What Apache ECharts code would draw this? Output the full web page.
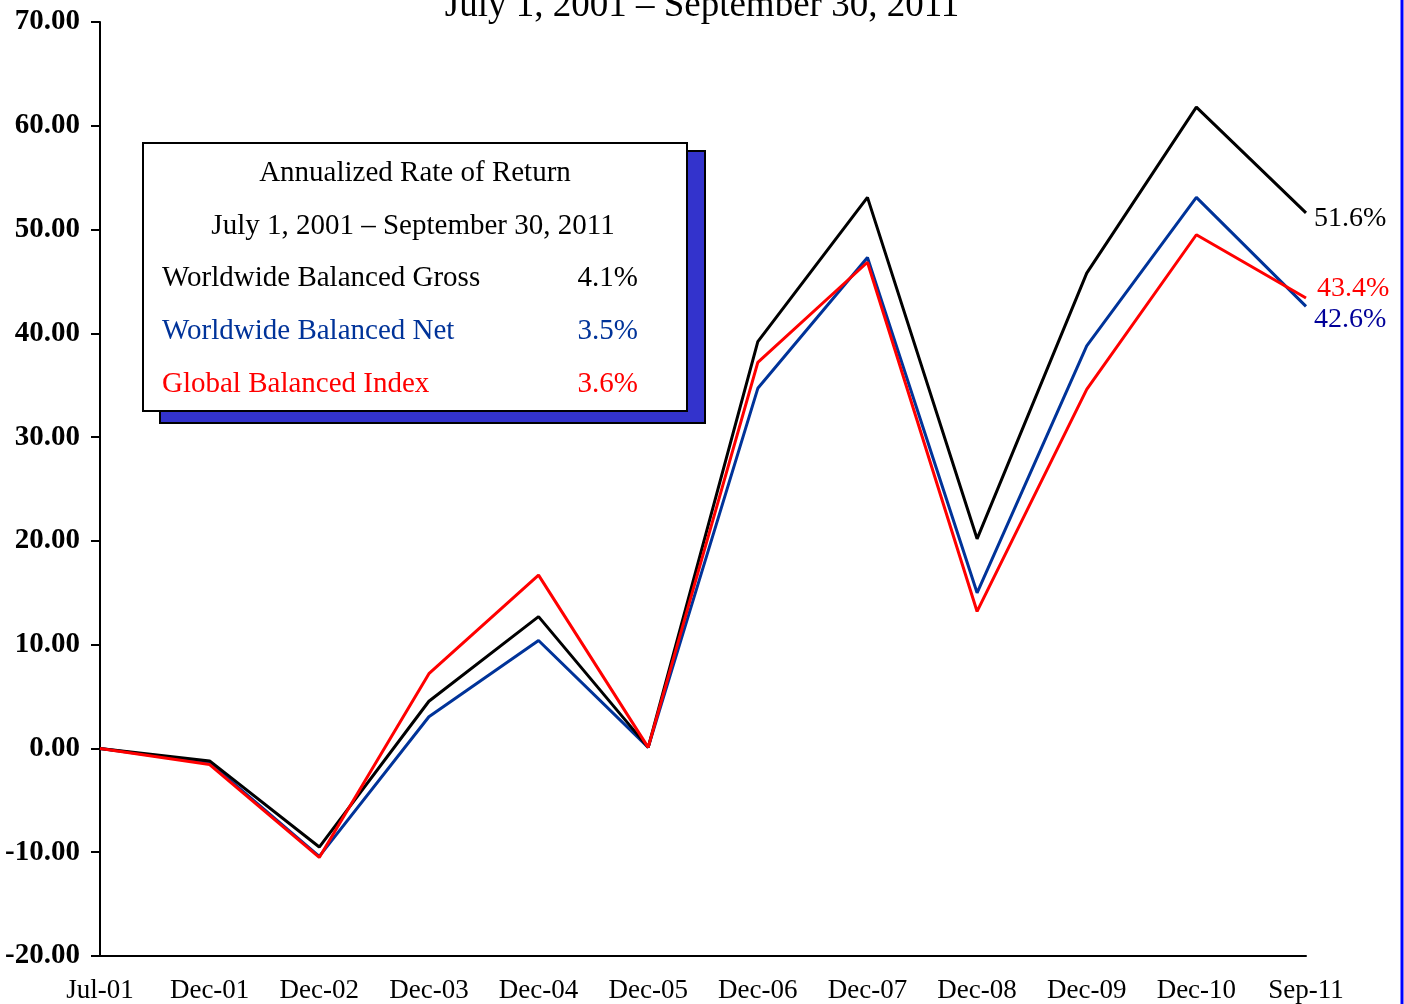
<!DOCTYPE html>
<html>
<head>
<meta charset="utf-8">
<script src="https://cdn.jsdelivr.net/npm/echarts@6/dist/echarts.min.js"></script>
<style>html,body{margin:0;padding:0;background:#fff}#c{width:1404px;height:1004px}</style>
</head>
<body>
<div id="c"></div>
<script>
const categories = ['Jul-01','Dec-01','Dec-02','Dec-03','Dec-04','Dec-05','Dec-06','Dec-07','Dec-08','Dec-09','Dec-10','Sep-11'];
const grossValues = [0, -1.2, -9.5, 4.55, 12.7, 0.1, 39.2, 53.1, 20.2, 45.8, 61.8, 51.6];
const netValues   = [0, -1.4, -10.4, 3.05, 10.4, 0.1, 34.7, 47.3, 15.0, 38.8, 53.1, 42.6];
const indexValues = [0, -1.55, -10.5, 7.2, 16.7, 0.1, 37.2, 46.85, 13.2, 34.6, 49.5, 43.4];
const seriesNames = ['Worldwide Balanced Gross', 'Worldwide Balanced Net', 'Global Balanced Index'];
const annualRates = ['4.1%', '3.5%', '3.6%'];
const endLabels = ['51.6%', '42.6%', '43.4%'];
const titleText = 'July 1, 2001 \u2013 September 30, 2011';
const boxTitle = 'Annualized Rate of Return';
const boxPeriod = 'July 1, 2001 \u2013 September 30, 2011';
const yTicks = { min: -20, max: 70, interval: 10 };

const lineColors = ['#000000', '#003399', '#FF0000'];
const labelColors = ['#000000', '#000099', '#FF0000'];
const labelOffsets = [[0, 6], [0, 13], [3, -9]];
const serif = '"Liberation Serif", "Times New Roman", serif';

const allValues = [grossValues, netValues, indexValues];
const chart = echarts.init(document.getElementById('c'), null, { renderer: 'canvas' });

const rowY = [278, 331, 384];
const graphics = [
  { type: 'text', x: 702, y: 6, style: { text: titleText, font: '37px ' + serif, fill: '#000', align: 'center', verticalAlign: 'middle' } },
  { type: 'rect', shape: { x: 160, y: 151, width: 545, height: 272 }, style: { fill: '#3333CC', stroke: '#000', lineWidth: 2 } },
  { type: 'rect', shape: { x: 143, y: 143, width: 544, height: 268 }, style: { fill: '#fff', stroke: '#000', lineWidth: 2 } },
  { type: 'text', x: 415, y: 173, style: { text: boxTitle, font: '29px ' + serif, fill: '#000', align: 'center', verticalAlign: 'middle' } },
  { type: 'text', x: 413, y: 226, style: { text: boxPeriod, font: '29px ' + serif, fill: '#000', align: 'center', verticalAlign: 'middle' } },
  { type: 'line', shape: { x1: 1402, y1: 0, x2: 1402, y2: 1004 }, style: { stroke: '#0000FF', lineWidth: 3 } }
];
seriesNames.forEach((n, i) => {
  const col = i === 1 ? '#003399' : lineColors[i];
  graphics.push({ type: 'text', x: 162, y: rowY[i], style: { text: n, font: '29px ' + serif, fill: col, align: 'left', verticalAlign: 'middle' } });
  graphics.push({ type: 'text', x: 638, y: rowY[i], style: { text: annualRates[i], font: '29px ' + serif, fill: col, align: 'right', verticalAlign: 'middle' } });
});

chart.setOption({
  animation: false,
  backgroundColor: '#fff',
  grid: { left: 100, right: 98, top: 22, bottom: 45, containLabel: false },
  xAxis: {
    type: 'category', data: categories, boundaryGap: false,
    axisLine: { onZero: false, lineStyle: { color: '#000', width: 2 } },
    axisTick: { show: false },
    axisLabel: { color: '#000', fontFamily: serif, fontSize: 27, margin: 21, interval: 0 },
    splitLine: { show: false }
  },
  yAxis: {
    type: 'value', min: yTicks.min, max: yTicks.max, interval: yTicks.interval,
    axisLine: { show: true, lineStyle: { color: '#000', width: 2 } },
    axisTick: { show: true, length: 9, lineStyle: { color: '#000', width: 2 } },
    axisLabel: { color: '#000', fontFamily: serif, fontSize: 29, fontWeight: 'bold', margin: 20, padding: [3, 0, 0, 0], formatter: v => v.toFixed(2) },
    splitLine: { show: false }
  },
  series: allValues.map((vals, i) => ({
    name: seriesNames[i], type: 'line', data: vals,
    showSymbol: false, symbol: 'none', smooth: false,
    lineStyle: { color: lineColors[i], width: 3 },
    itemStyle: { color: lineColors[i] },
    endLabel: {
      show: true, distance: 8, offset: labelOffsets[i],
      formatter: endLabels[i], color: labelColors[i],
      fontFamily: serif, fontSize: 28
    },
    z: i === 0 ? 3 : (i === 1 ? 2 : 4)
  })),
  graphic: graphics
});
</script>
</body>
</html>
